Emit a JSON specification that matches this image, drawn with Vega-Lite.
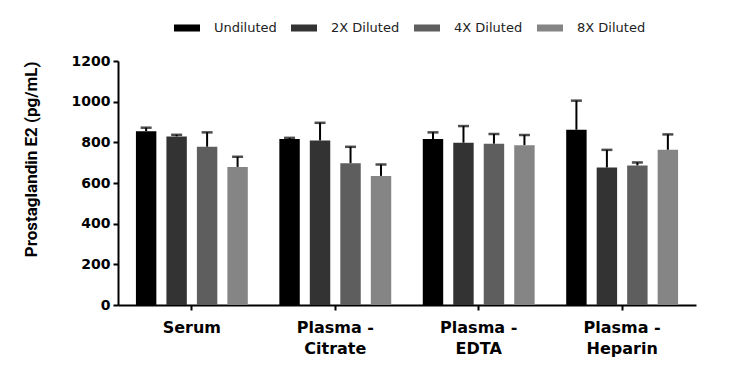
{
  "$schema": "https://vega.github.io/schema/vega-lite/v6.json",
  "width": 578,
  "height": 244,
  "autosize": {"type": "none"},
  "padding": {"left": 118, "top": 61, "right": 54, "bottom": 71},
  "background": "white",
  "config": {
    "view": {"stroke": null},
    "axis": {"grid": false, "domainColor": "black", "domainWidth": 2, "tickColor": "black", "tickWidth": 2, "tickSize": 5, "labelFont": "DejaVu Sans", "labelFontWeight": "bold", "labelFontSize": 14, "labelColor": "black", "titleFont": "Roboto", "titleFontWeight": "bold", "titleFontSize": 17, "titleColor": "black"}
  },
  "data": {
    "values": [
      {"sample": "Serum", "dilution": "Undiluted", "value": 855, "upper": 872},
      {"sample": "Serum", "dilution": "2X Diluted", "value": 829, "upper": 837},
      {"sample": "Serum", "dilution": "4X Diluted", "value": 778, "upper": 849},
      {"sample": "Serum", "dilution": "8X Diluted", "value": 679, "upper": 729},
      {"sample": "Plasma - Citrate", "dilution": "Undiluted", "value": 817, "upper": 822},
      {"sample": "Plasma - Citrate", "dilution": "2X Diluted", "value": 809, "upper": 896},
      {"sample": "Plasma - Citrate", "dilution": "4X Diluted", "value": 697, "upper": 778},
      {"sample": "Plasma - Citrate", "dilution": "8X Diluted", "value": 635, "upper": 691},
      {"sample": "Plasma - EDTA", "dilution": "Undiluted", "value": 816, "upper": 849},
      {"sample": "Plasma - EDTA", "dilution": "2X Diluted", "value": 798, "upper": 880},
      {"sample": "Plasma - EDTA", "dilution": "4X Diluted", "value": 793, "upper": 841},
      {"sample": "Plasma - EDTA", "dilution": "8X Diluted", "value": 786, "upper": 836},
      {"sample": "Plasma - Heparin", "dilution": "Undiluted", "value": 862, "upper": 1005},
      {"sample": "Plasma - Heparin", "dilution": "2X Diluted", "value": 676, "upper": 763},
      {"sample": "Plasma - Heparin", "dilution": "4X Diluted", "value": 686, "upper": 701},
      {"sample": "Plasma - Heparin", "dilution": "8X Diluted", "value": 763, "upper": 839}
    ]
  },
  "encoding": {
    "x": {
      "field": "sample", "type": "nominal",
      "sort": ["Serum", "Plasma - Citrate", "Plasma - EDTA", "Plasma - Heparin"],
      "scale": {"paddingInner": 0.22, "paddingOuter": 0.125},
      "axis": {"title": null, "labelAngle": 0, "labelFontSize": 16, "labelPadding": 9, "labelLineHeight": 21, "labelExpr": "datum.label == 'Serum' ? datum.label : ['Plasma -', replace(datum.label, 'Plasma - ', '')]"}
    },
    "xOffset": {
      "field": "dilution", "type": "nominal",
      "sort": ["Undiluted", "2X Diluted", "4X Diluted", "8X Diluted"],
      "scale": {"paddingInner": 0.33, "paddingOuter": 0}
    }
  },
  "layer": [
    {
      "mark": {"type": "rule", "color": "black", "strokeWidth": 2},
      "encoding": {
        "y": {"field": "value", "type": "quantitative"},
        "y2": {"field": "upper"}
      }
    },
    {
      "mark": {"type": "tick", "color": "black", "size": 11, "thickness": 2.5, "orient": "horizontal"},
      "encoding": {
        "y": {"field": "upper", "type": "quantitative"}
      }
    },
    {
      "mark": {"type": "bar"},
      "encoding": {
        "y": {
          "field": "value", "type": "quantitative",
          "scale": {"domain": [0, 1200]},
          "axis": {"title": "Prostaglandin E2 (pg/mL)", "values": [0, 200, 400, 600, 800, 1000, 1200], "format": "d", "labelPadding": 3, "titlePadding": 31, "titleAnchor": "end"}
        },
        "color": {
          "field": "dilution", "type": "nominal",
          "scale": {"domain": ["Undiluted", "2X Diluted", "4X Diluted", "8X Diluted"], "range": ["#000000", "#333333", "#5e5e5e", "#858585"]},
          "legend": {
            "title": null, "orient": "none", "direction": "horizontal", "legendX": 56, "legendY": -46,
            "symbolType": "M-1,-0.27H1V0.27H-1Z", "symbolSize": 676, "symbolStrokeWidth": 0,
            "labelFont": "DejaVu Sans", "labelFontSize": 13, "labelColor": "#222222", "labelOffset": 14, "columnPadding": 14
          }
        }
      }
    }
  ]
}
